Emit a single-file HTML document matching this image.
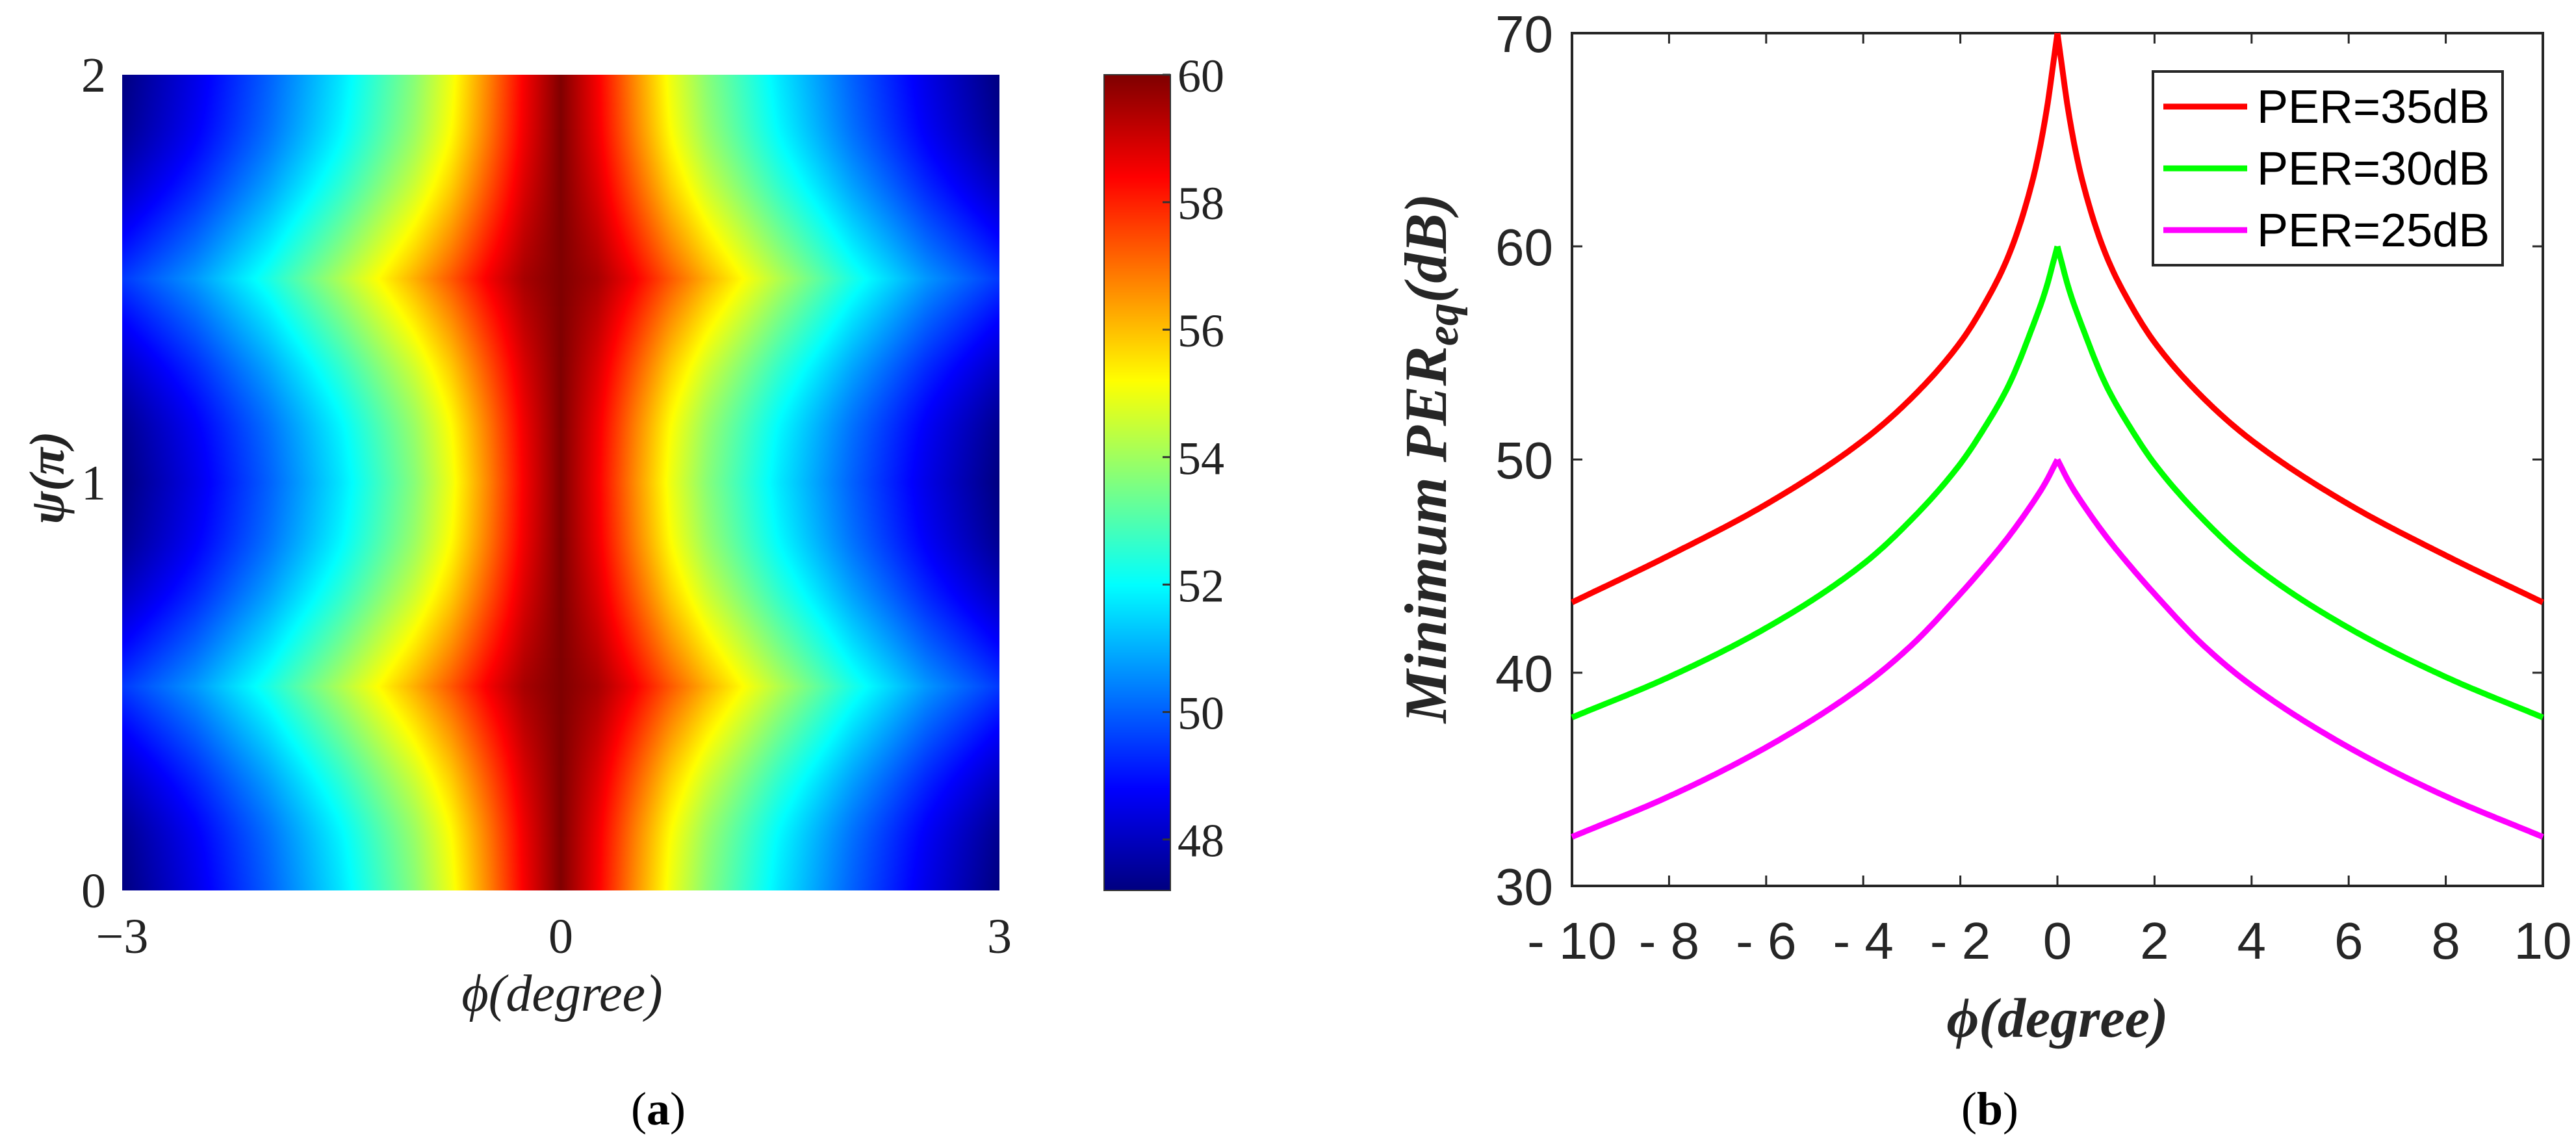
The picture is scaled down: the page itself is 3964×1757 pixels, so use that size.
<!DOCTYPE html>
<html><head><meta charset="utf-8">
<style>
html,body{margin:0;padding:0;background:#fff;}
#wrap{position:relative;width:3964px;height:1757px;overflow:hidden;}
canvas,svg{position:absolute;left:0;top:0;}
</style></head>
<body>
<div id="wrap">
<canvas id="hm" width="1350" height="1255" style="left:188px;top:115px;"></canvas>
<canvas id="cb" width="102" height="1255" style="left:1699px;top:115px;"></canvas>
<svg id="svg" width="3964" height="1757" viewBox="0 0 3964 1757"></svg>
</div>
<script>
// ---------- Panel (a) heatmap data ----------
const phiGrid = [0, 0.25, 0.5, 0.75, 1, 1.5, 2, 2.5, 3];
const psiGrid = [0, 0.125, 0.25, 0.375, 0.5];
const hmRow0   = [60, 58.5, 56.7, 55.0, 53.7, 51.7, 50.0, 48.5, 47.2];
const hmRow125 = [60, 58.58, 56.84, 55.18, 53.9, 51.9, 50.18, 48.68, 47.38];
const hmRow25  = [60, 58.8, 57.24, 55.69, 54.45, 52.45, 50.69, 49.16, 47.89];
const hmRow375 = [60, 59.13, 57.83, 56.45, 55.28, 53.28, 51.45, 49.89, 48.65];
const hmRow5   = [60, 59.5, 58.5, 57.3, 56.2, 54.2, 52.3, 50.7, 49.5];
const cbTicks = [48, 50, 52, 54, 56, 58, 60];
const cbMin = 47.2, cbMax = 60;
const hmXTicks = [-3, 0, 3];
const hmYTicks = [0, 1, 2];

// ---------- Panel (b) line data ----------
const phiB = [-10, -8, -6, -4, -3, -2, -1.5, -1, -0.5, -0.25, 0, 0.25, 0.5, 1, 1.5, 2, 3, 4, 6, 8, 10];
const per35 = [43.3, 45.5, 47.9, 50.9, 52.9, 55.5, 57.3, 59.6, 63.2, 66.0, 70, 66.0, 63.2, 59.6, 57.3, 55.5, 52.9, 50.9, 47.9, 45.5, 43.3];
const per30 = [37.9, 39.8, 42.1, 45.1, 47.2, 49.8, 51.5, 53.5, 56.3, 57.9, 60, 57.9, 56.3, 53.5, 51.5, 49.8, 47.2, 45.1, 42.1, 39.8, 37.9];
const per25 = [32.3, 34.2, 36.5, 39.4, 41.3, 43.7, 45.0, 46.4, 48.0, 48.9, 50, 48.9, 48.0, 46.4, 45.0, 43.7, 41.3, 39.4, 36.5, 34.2, 32.3];
const seriesNames = ["PER=35dB", "PER=30dB", "PER=25dB"];
const xTicksB = [-10, -8, -6, -4, -2, 0, 2, 4, 6, 8, 10];
const yTicksB = [30, 40, 50, 60, 70];

const NS = "http://www.w3.org/2000/svg";
const svg = document.getElementById("svg");
function mk(tag, attrs, parent) {
  const e = document.createElementNS(NS, tag);
  for (const k in attrs) e.setAttribute(k, attrs[k]);
  (parent || svg).appendChild(e);
  return e;
}
function jet(t) {
  t = Math.max(0, Math.min(1, t));
  const c = v => Math.round(255 * Math.max(0, Math.min(1, v)));
  return [c(1.5 - Math.abs(4 * t - 3)), c(1.5 - Math.abs(4 * t - 2)), c(1.5 - Math.abs(4 * t - 1))];
}
const rows = [hmRow0, hmRow125, hmRow25, hmRow375, hmRow5];
function interp1(xs, ys, x) {
  if (x <= xs[0]) return ys[0];
  for (let i = 1; i < xs.length; i++) {
    if (x <= xs[i]) { const f = (x - xs[i-1]) / (xs[i] - xs[i-1]); return ys[i-1] + f * (ys[i] - ys[i-1]); }
  }
  return ys[ys.length - 1];
}
function mono(xs, ys) {
  const n = xs.length, d = [], m = new Array(n);
  for (let i = 0; i < n - 1; i++) d.push((ys[i+1] - ys[i]) / (xs[i+1] - xs[i]));
  m[0] = d[0]; m[n-1] = d[n-2];
  for (let i = 1; i < n - 1; i++) {
    if (d[i-1] * d[i] <= 0) m[i] = 0;
    else { const w1 = 2 * (xs[i+1]-xs[i]) + (xs[i]-xs[i-1]), w2 = (xs[i+1]-xs[i]) + 2 * (xs[i]-xs[i-1]); m[i] = (w1 + w2) / (w1 / d[i-1] + w2 / d[i]); }
  }
  return function (x) {
    let i = 0;
    while (i < n - 2 && x > xs[i+1]) i++;
    const h = xs[i+1] - xs[i], t = Math.max(0, Math.min(1, (x - xs[i]) / h));
    const t2 = t * t, t3 = t2 * t;
    return (2*t3 - 3*t2 + 1) * ys[i] + (t3 - 2*t2 + t) * h * m[i] + (-2*t3 + 3*t2) * ys[i+1] + (t3 - t2) * h * m[i+1];
  };
}
function hmValue(phi, psi) {
  const a = Math.abs(phi);
  let p = psi % 1; if (p > 0.5) p = 1 - p;
  const vals = rows.map(r => interp1(phiGrid, r, a));
  return mono(psiGrid, vals)(p);
}
const hmX0 = 188, hmX1 = 1538, hmY0 = 115, hmY1 = 1370;
const hx = v => hmX0 + (v + 3) / 6 * (hmX1 - hmX0);
const hy = v => hmY1 - v / 2 * (hmY1 - hmY0);
(function drawHeatmap() {
  const cv = document.getElementById("hm"), ctx = cv.getContext("2d");
  const W = cv.width, H = cv.height, s = 2;
  for (let y = 0; y < H; y += s) {
    const psi = 2 - (y + s / 2) / H * 2;
    for (let x = 0; x < W; x += s) {
      const phi = -3 + (x + s / 2) / W * 6;
      const v = hmValue(phi, psi);
      const c = jet((v - cbMin) / (cbMax - cbMin));
      ctx.fillStyle = "rgb(" + c[0] + "," + c[1] + "," + c[2] + ")";
      ctx.fillRect(x, y, s, s);
    }
  }
  const cb = document.getElementById("cb"), c2 = cb.getContext("2d");
  for (let y = 0; y < cb.height; y++) {
    const v = cbMax - y / cb.height * (cbMax - cbMin);
    const c = jet((v - cbMin) / (cbMax - cbMin));
    c2.fillStyle = "rgb(" + c[0] + "," + c[1] + "," + c[2] + ")";
    c2.fillRect(0, y, cb.width, 1);
  }
})();
const cby = v => hmY1 - (v - cbMin) / (cbMax - cbMin) * (hmY1 - hmY0);
const serif = '"Liberation Serif", serif';
const sans = '"Liberation Sans", sans-serif';
mk("rect", {x: 1699, y: 115, width: 102, height: 1255, fill: "none", stroke: "#333", "stroke-width": 2,  });
cbTicks.forEach(v => {
  const y = cby(v);
  mk("line", {x1: 1789, x2: 1801, y1: y, y2: y, stroke: "#333", "stroke-width": 3,  });
  const t = mk("text", {x: 1812, y: y + 26, "font-family": serif, "font-size": 72, fill: "#222",  });
  t.textContent = v;
});
hmXTicks.forEach(v => {
  const t = mk("text", {x: hx(v), y: 1466, "text-anchor": "middle", "font-family": serif, "font-size": 76, fill: "#222",  });
  t.textContent = v < 0 ? "\u2212" + Math.abs(v) : v;
});
hmYTicks.forEach(v => {
  const t = mk("text", {x: 163, y: hy(v) + 26, "text-anchor": "end", "font-family": serif, "font-size": 76, fill: "#222",  });
  t.textContent = v;
});
let t = mk("text", {x: 865, y: 1555, "text-anchor": "middle", "font-family": serif, "font-style": "italic", "font-size": 80, fill: "#222",  });
t.textContent = "\u03d5(degree)";
t = mk("text", {x: 0, y: 0, "text-anchor": "middle", "font-family": serif, "font-style": "italic", "font-weight": "bold", "font-size": 76, fill: "#222", transform: "translate(98,735) rotate(-90)",  });
t.textContent = "\u03c8(\u03c0)";
t = mk("text", {x: 1013, y: 1730, "text-anchor": "middle", "font-family": serif, "font-size": 72, fill: "#000",  });
t.innerHTML = '(<tspan font-weight="bold">a</tspan>)';

// ---------- Panel (b) ----------
const bX0 = 2419, bX1 = 3913, bY0 = 51, bY1 = 1363;
const bx = v => bX0 + (v + 10) / 20 * (bX1 - bX0);
const by = v => bY1 - (v - 30) / 40 * (bY1 - bY0);
mk("rect", {x: bX0, y: bY0, width: bX1 - bX0, height: bY1 - bY0, fill: "#fff", stroke: "#262626", "stroke-width": 4,  });
xTicksB.forEach(v => {
  const x = bx(v);
  mk("line", {x1: x, x2: x, y1: bY1, y2: bY1 - 16, stroke: "#262626", "stroke-width": 3,  });
  mk("line", {x1: x, x2: x, y1: bY0, y2: bY0 + 16, stroke: "#262626", "stroke-width": 3,  });
  const tt = mk("text", {x: x, y: 1475, "text-anchor": "middle", "font-family": sans, "font-size": 80, fill: "#262626",  });
  tt.textContent = v < 0 ? "- " + Math.abs(v) : v;
});
yTicksB.forEach(v => {
  const y = by(v);
  mk("line", {x1: bX0, x2: bX0 + 16, y1: y, y2: y, stroke: "#262626", "stroke-width": 3,  });
  mk("line", {x1: bX1, x2: bX1 - 16, y1: y, y2: y, stroke: "#262626", "stroke-width": 3,  });
  const tt = mk("text", {x: 2390, y: y + 29, "text-anchor": "end", "font-family": sans, "font-size": 80, fill: "#262626",  });
  tt.textContent = v;
});
function curvePath(xs, ys) {
  const f = mono(xs, ys), a = xs[0], b = xs[xs.length - 1], N = 200;
  let d = "";
  for (let i = 0; i <= N; i++) {
    const x = a + (b - a) * i / N;
    d += (i ? "L" : "M") + bx(x).toFixed(1) + "," + by(f(x)).toFixed(1);
  }
  return d;
}
const colors = ["#ff0000", "#00ff00", "#ff00ff"];
[per35, per30, per25].forEach((ys, k) => {
  const zi = phiB.indexOf(0);
  const g = mk("g", { });
  mk("path", {d: curvePath(phiB.slice(0, zi + 1), ys.slice(0, zi + 1)), fill: "none", stroke: colors[k], "stroke-width": 9, "stroke-linejoin": "round",  }, g);
  mk("path", {d: curvePath(phiB.slice(zi), ys.slice(zi)), fill: "none", stroke: colors[k], "stroke-width": 9, "stroke-linejoin": "round",  }, g);
});
const lg = mk("g", { });
mk("rect", {x: 3313, y: 110, width: 538, height: 298, fill: "#fff", stroke: "#262626", "stroke-width": 4,  }, lg);
seriesNames.forEach((n, k) => {
  const y = 164 + k * 95;
  mk("line", {x1: 3329, x2: 3458, y1: y, y2: y, stroke: colors[k], "stroke-width": 9,  }, lg);
  const tt = mk("text", {x: 3473, y: y + 25, "font-family": sans, "font-size": 72, fill: "#000",  }, lg);
  tt.textContent = n;
});
t = mk("text", {x: 3166, y: 1595, "text-anchor": "middle", "font-family": serif, "font-style": "italic", "font-weight": "bold", "font-size": 86, fill: "#262626",  });
t.textContent = "\u03d5(degree)";
t = mk("text", {x: 0, y: 0, "text-anchor": "middle", "font-family": serif, "font-style": "italic", "font-weight": "bold", "font-size": 92, fill: "#262626", transform: "translate(2225,705) rotate(-90)",  });
t.innerHTML = 'Minimum PER<tspan baseline-shift="-25%" font-size="70">eq</tspan>(dB)';
t = mk("text", {x: 3062, y: 1730, "text-anchor": "middle", "font-family": serif, "font-size": 72, fill: "#000",  });
t.innerHTML = '(<tspan font-weight="bold">b</tspan>)';
</script>
</body></html>
